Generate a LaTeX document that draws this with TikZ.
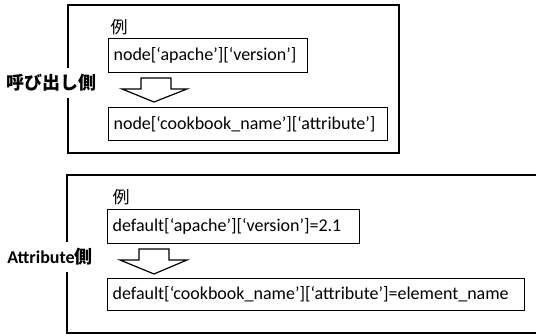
\documentclass[tikz,border=0pt]{standalone}
\usepackage{fontspec}
\setmainfont{Carlito}
\newfontfamily\cjk{Noto Sans CJK JP}
\usetikzlibrary{positioning}
\tikzset{
  outer/.style={draw=black, line width=2pt},
  codebox/.style={draw=black, line width=1.2pt, anchor=north west, inner xsep=5pt, inner ysep=0pt,
    align=left, font=\fontsize{18}{21}\selectfont},
  side/.style={fill=white, inner xsep=0pt, inner ysep=6pt, font=\fontsize{18}{21}\selectfont\bfseries},
  rei/.style={font=\cjk\fontsize{17}{20}\selectfont, inner sep=0pt},
  blockarrow/.style={draw=black, line width=1.2pt, fill=white, line join=miter},
}
\begin{document}
\begin{tikzpicture}[x=1pt,y=-1pt]
\useasboundingbox (0,0) rectangle (536,336);
% ---- top section
\draw[outer] (68,5) rectangle (399,153);
\node[rei] (rei1) at (119,27) {例};
\node[codebox, text width=189pt, minimum height=34pt] (a1) at (108,38) {node[‘apache’][‘version’]};
\node[codebox, text width=269pt, minimum height=33pt] (a2) at (108,107) {node[‘cookbook\_name’][‘attribute’]};
\draw[blockarrow] (141,78) -- (171,78) -- (171,89) -- (187,89) -- (154,102) -- (122,89) -- (141,89) -- cycle;
\node[side] (s1) at (51,83) {{\cjk\bfseries 呼び出し側}};
% ---- bottom section
\draw[outer] (537,175) -- (67,175) -- (67,333) -- (537,333);
\node[rei] (rei2) at (121,197) {例};
\node[codebox, text width=242pt, minimum height=34pt] (b1) at (107,209) {default[‘apache’][‘version’]=2.1};
\node[codebox, text width=407pt, minimum height=32pt] (b2) at (107,278) {default[‘cookbook\_name’][‘attribute’]=element\_name};
\draw[blockarrow] (139,249) -- (169,249) -- (169,260) -- (187,260) -- (154,274) -- (120,260) -- (139,260) -- cycle;
\node[side] (s2) at (50,257) {Attribute{\cjk\bfseries 側}};
\end{tikzpicture}
\end{document}
